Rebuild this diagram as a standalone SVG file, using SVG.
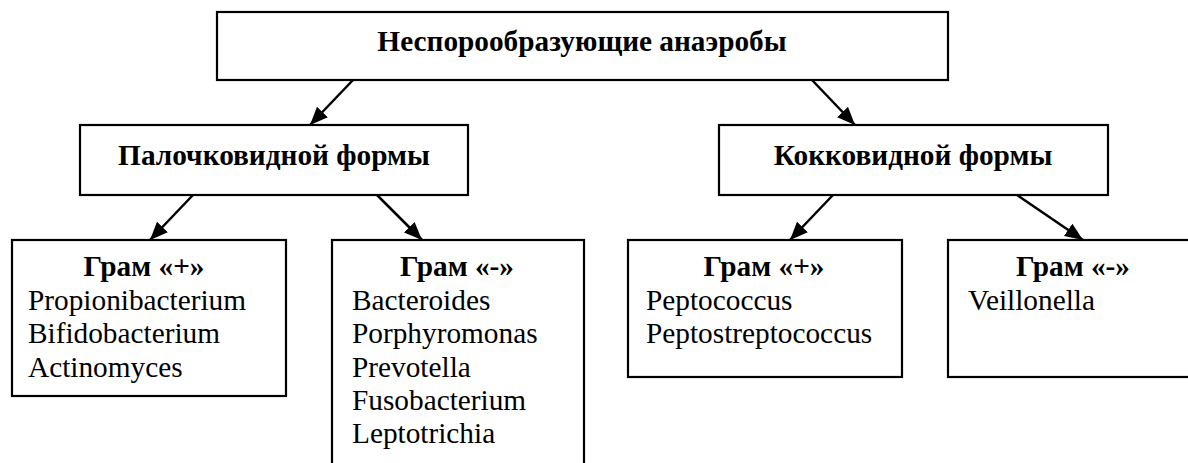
<svg xmlns="http://www.w3.org/2000/svg" width="1188" height="463" viewBox="0 0 1188 463">
<style>
.box{fill:#fff;stroke:#000;stroke-width:2.2}
.t{font-family:"Liberation Serif","Times New Roman",serif;font-size:29.3px;fill:#000}
.b{font-weight:bold}
.c{text-anchor:middle}
.ln{stroke:#000;stroke-width:2.5;fill:none;marker-end:url(#ah)}
</style>
<defs>
<marker id="ah" markerUnits="userSpaceOnUse" markerWidth="20" markerHeight="16" refX="18" refY="7.5" orient="auto">
<path d="M0,0 L18,7.5 L0,15 z" fill="#000"/>
</marker>
</defs>
<rect width="1188" height="463" fill="#fff"/>
<g id="connectors">
<line class="ln" x1="353" y1="80" x2="310" y2="125"/>
<line class="ln" x1="812" y1="80" x2="855" y2="125"/>
<line class="ln" x1="193" y1="195" x2="150" y2="240"/>
<line class="ln" x1="377" y1="195" x2="422" y2="240"/>
<line class="ln" x1="833" y1="195" x2="790" y2="240"/>
<line class="ln" x1="1017" y1="195" x2="1083" y2="240"/>
</g>
<g id="root">
<rect class="box" x="217" y="12" width="731" height="68"/>
<text class="t b c" x="582" y="51">Неспорообразующие анаэробы</text>
</g>
<g id="rod">
<rect class="box" x="80" y="125" width="388" height="70"/>
<text class="t b c" x="274" y="165">Палочковидной формы</text>
</g>
<g id="cocci">
<rect class="box" x="719" y="125" width="389" height="70"/>
<text class="t b c" x="913" y="165">Кокковидной формы</text>
</g>
<g id="rod-gram-pos">
<rect class="box" x="12" y="240" width="274" height="156"/>
<text class="t b c" x="144" y="276">Грам «+»</text>
<text class="t" x="28" y="310">Propionibacterium</text>
<text class="t" x="28" y="343">Bifidobacterium</text>
<text class="t" x="28" y="377">Actinomyces</text>
</g>
<g id="rod-gram-neg">
<rect class="box" x="332" y="240" width="252" height="235"/>
<text class="t b c" x="457" y="276">Грам «-»</text>
<text class="t" x="352" y="310">Bacteroides</text>
<text class="t" x="352" y="343">Porphyromonas</text>
<text class="t" x="352" y="377">Prevotella</text>
<text class="t" x="352" y="410">Fusobacterium</text>
<text class="t" x="352" y="443">Leptotrichia</text>
</g>
<g id="cocci-gram-pos">
<rect class="box" x="628" y="240" width="274" height="137"/>
<text class="t b c" x="764" y="276">Грам «+»</text>
<text class="t" x="646" y="310">Peptococcus</text>
<text class="t" x="646" y="343">Peptostreptococcus</text>
</g>
<g id="cocci-gram-neg">
<rect class="box" x="948" y="240" width="252" height="137"/>
<text class="t b c" x="1073" y="276">Грам «-»</text>
<text class="t" x="968" y="310">Veillonella</text>
</g>
</svg>
